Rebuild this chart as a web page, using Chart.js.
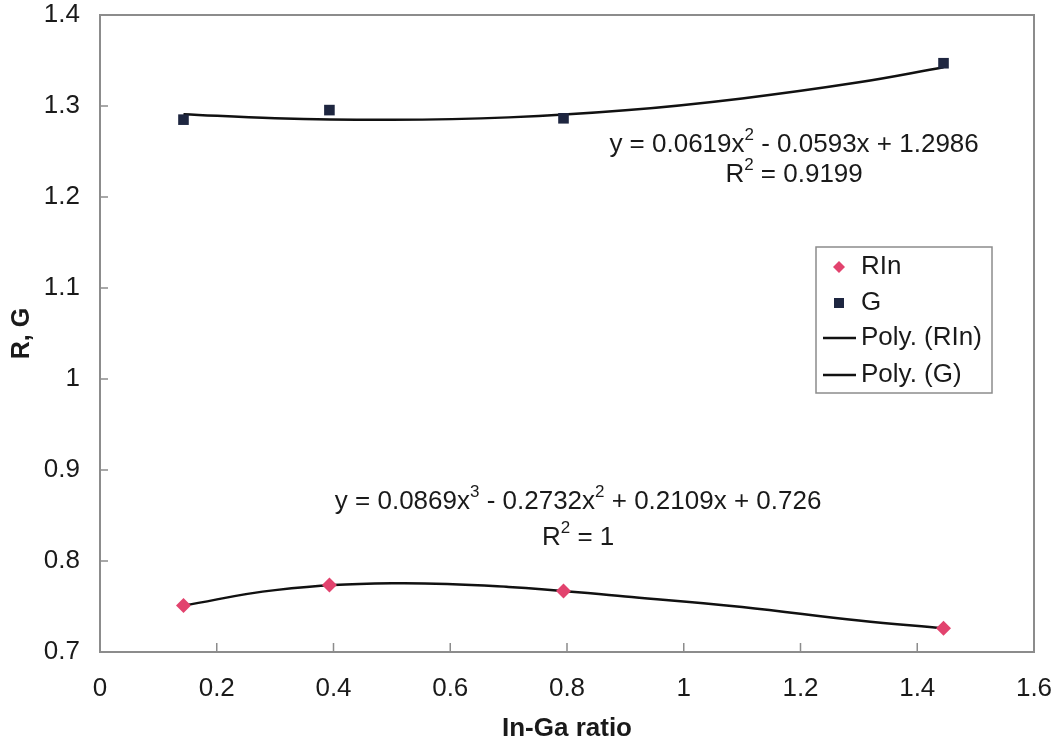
<!DOCTYPE html>
<html>
<head>
<meta charset="utf-8">
<title>R, G vs In-Ga ratio</title>
<script src="https://cdn.jsdelivr.net/npm/chart.js@4.4.0/dist/chart.umd.min.js"></script>
<style>
  body { margin: 0; background: #fff; }
  #chart { display: block; }
</style>
</head>
<body>
<canvas id="chart" width="1055" height="744"></canvas>
<script>
// Datos
const ratio = [0.143, 0.393, 0.794, 1.445];
const rIn = [0.751, 0.7735, 0.767, 0.726];
const gVals = [1.285, 1.2955, 1.2865, 1.347];

// Curvas de tendencia
const fitX = [0.143, 0.3, 0.5, 0.7, 0.9, 1.1, 1.3, 1.445];
const rInFit = [0.751, 0.768, 0.7755, 0.7715, 0.761, 0.7495, 0.7345, 0.726];
const gFit = [1.291, 1.2865, 1.2848, 1.2875, 1.2952, 1.3083, 1.326, 1.3425];

const xTicks = [0, 0.2, 0.4, 0.6, 0.8, 1, 1.2, 1.4, 1.6];
const yTicks = [0.7, 0.8, 0.9, 1, 1.1, 1.2, 1.3, 1.4];

const eqG = [['y = 0.0619x'], ['2', 'sup'], [' - 0.0593x + 1.2986']];
const r2G = [['R'], ['2', 'sup'], [' = 0.9199']];
const eqRIn = [['y = 0.0869x'], ['3', 'sup'], [' - 0.2732x'], ['2', 'sup'], [' + 0.2109x + 0.726']];
const r2RIn = [['R'], ['2', 'sup'], [' = 1']];

const FONT = '"Liberation Sans", Arial, sans-serif';
const SIZE = 26;
const toXY = (xs, ys) => xs.map((x, i) => ({ x: x, y: ys[i] }));

function drawRich(ctx, parts, cx, cy, size) {
    ctx.textBaseline = 'middle';
    ctx.textAlign = 'left';
    let total = 0;
    parts.forEach(p => {
        ctx.font = (p[1] ? Math.round(size * 0.65) : size) + 'px ' + FONT;
        total += ctx.measureText(p[0]).width;
    });
    let x = cx - total / 2;
    parts.forEach(p => {
        ctx.font = (p[1] ? Math.round(size * 0.65) : size) + 'px ' + FONT;
        ctx.fillText(p[0], x, p[1] ? cy - size * 0.36 : cy);
        x += ctx.measureText(p[0]).width;
    });
}

const decorPlugin = {
    id: 'decor',
    afterDatasetsDraw(chart) {
        const ctx = chart.ctx;
        const a = chart.chartArea;
        const xs = chart.scales.x, ys = chart.scales.y;
        ctx.save();
        // marco del area
        ctx.strokeStyle = '#8c8c8c';
        ctx.lineWidth = 2;
        ctx.strokeRect(a.left, a.top, a.right - a.left, a.bottom - a.top);
        // marcas hacia adentro
        ctx.lineWidth = 1.5;
        ctx.beginPath();
        xTicks.forEach(v => {
            const px = xs.getPixelForValue(v);
            ctx.moveTo(px, a.bottom);
            ctx.lineTo(px, a.bottom - 9);
        });
        yTicks.forEach(v => {
            const py = ys.getPixelForValue(v);
            ctx.moveTo(a.left, py);
            ctx.lineTo(a.left + 8, py);
        });
        ctx.stroke();

        // ecuaciones
        ctx.fillStyle = '#1a1a1a';
        drawRich(ctx, eqG, xs.getPixelForValue(1.189), ys.getPixelForValue(1.257), SIZE);
        drawRich(ctx, r2G, xs.getPixelForValue(1.189), ys.getPixelForValue(1.224), SIZE);
        drawRich(ctx, eqRIn, xs.getPixelForValue(0.819), ys.getPixelForValue(0.865), SIZE);
        drawRich(ctx, r2RIn, xs.getPixelForValue(0.819), ys.getPixelForValue(0.826), SIZE);

        // leyenda
        const lx = 816, ly = 247, lw = 176, lh = 146;
        ctx.fillStyle = '#fff';
        ctx.fillRect(lx, ly, lw, lh);
        ctx.strokeStyle = '#8c8c8c';
        ctx.lineWidth = 1.5;
        ctx.strokeRect(lx, ly, lw, lh);
        const rows = [20, 56, 91, 128];
        chart.data.datasets.forEach((ds, i) => {
            const cy = ly + rows[i];
            if (ds.showLine === false) {
                ctx.fillStyle = ds.backgroundColor;
                if (ds.pointStyle === 'rectRot') {
                    ctx.beginPath();
                    ctx.moveTo(839, cy - 6);
                    ctx.lineTo(845, cy);
                    ctx.lineTo(839, cy + 6);
                    ctx.lineTo(833, cy);
                    ctx.closePath();
                    ctx.fill();
                } else {
                    ctx.fillRect(834, cy - 5, 10, 10);
                }
            } else {
                ctx.strokeStyle = ds.borderColor;
                ctx.lineWidth = 2.5;
                ctx.beginPath();
                ctx.moveTo(823, cy);
                ctx.lineTo(856, cy);
                ctx.stroke();
            }
            ctx.fillStyle = '#1a1a1a';
            ctx.font = SIZE + 'px ' + FONT;
            ctx.textAlign = 'left';
            ctx.textBaseline = 'middle';
            ctx.fillText(ds.label, 861, cy);
        });
        ctx.restore();
    }
};

function noPad(s) {
    s.paddingTop = 0;
    s.paddingBottom = 0;
    s.paddingLeft = 0;
    s.paddingRight = 0;
}

new Chart(document.getElementById('chart'), {
    type: 'line',
    data: {
        datasets: [
            {
                label: 'RIn',
                data: toXY(ratio, rIn),
                showLine: false,
                pointStyle: 'rectRot',
                pointRadius: 7.5,
                backgroundColor: '#e2436e',
                borderColor: '#e2436e',
                pointBorderWidth: 0
            },
            {
                label: 'G',
                data: toXY(ratio, gVals),
                showLine: false,
                pointStyle: 'rect',
                pointRadius: 7.5,
                backgroundColor: '#1e2640',
                borderColor: '#1e2640',
                pointBorderWidth: 0
            },
            {
                label: 'Poly. (RIn)',
                data: toXY(fitX, rInFit),
                borderColor: '#111',
                borderWidth: 2.5,
                pointRadius: 0,
                tension: 0.4,
                fill: false
            },
            {
                label: 'Poly. (G)',
                data: toXY(fitX, gFit),
                borderColor: '#111',
                borderWidth: 2.5,
                pointRadius: 0,
                tension: 0.4,
                fill: false
            }
        ]
    },
    options: {
        responsive: false,
        animation: false,
        layout: { padding: { top: 15, right: 21, left: 0, bottom: 0 } },
        plugins: {
            legend: { display: false },
            tooltip: { enabled: false }
        },
        scales: {
            x: {
                type: 'linear',
                min: 0,
                max: 1.6,
                afterBuildTicks: (s) => { s.ticks = xTicks.map(v => ({ value: v })); },
                afterFit: (s) => { s.height = 92; noPad(s); },
                grid: { display: false, drawTicks: false },
                border: { display: false },
                ticks: {
                    color: '#1a1a1a',
                    padding: 21,
                    font: { family: FONT, size: SIZE },
                    maxRotation: 0,
                    callback: (v) => String(v)
                },
                title: {
                    display: true,
                    text: 'In-Ga ratio',
                    color: '#1a1a1a',
                    font: { family: FONT, size: 26, weight: 'bold' },
                    padding: { top: 0, bottom: 0 }
                }
            },
            y: {
                type: 'linear',
                min: 0.7,
                max: 1.4,
                afterBuildTicks: (s) => { s.ticks = yTicks.map(v => ({ value: v })); },
                afterFit: (s) => { s.width = 100; noPad(s); },
                grid: { display: false, drawTicks: false },
                border: { display: false },
                ticks: {
                    color: '#1a1a1a',
                    padding: 20,
                    font: { family: FONT, size: SIZE },
                    callback: (v) => String(v)
                },
                title: {
                    display: true,
                    text: 'R, G',
                    color: '#1a1a1a',
                    font: { family: FONT, size: 25, weight: 'bold' },
                    padding: { top: 7, bottom: 0 }
                }
            }
        }
    },
    plugins: [decorPlugin]
});
</script>
</body>
</html>
